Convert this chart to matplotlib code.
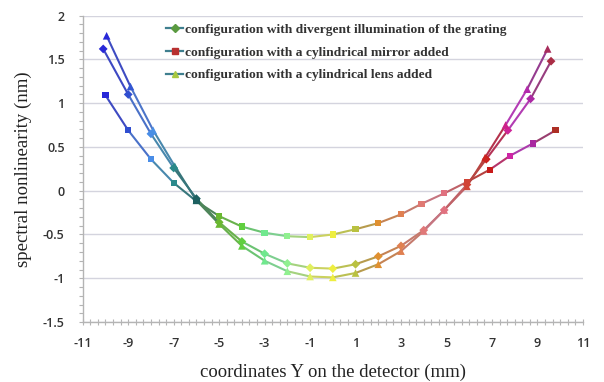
import numpy as np
import matplotlib
matplotlib.use("Agg")
import matplotlib.pyplot as plt
from matplotlib.collections import LineCollection
from matplotlib.colors import LinearSegmentedColormap, Normalize
from matplotlib.lines import Line2D
from matplotlib.ticker import MultipleLocator

# --- data ---
labels = [
    "configuration with divergent illumination of the grating",
    "configuration with a cylindrical mirror added",
    "configuration with a cylindrical lens added",
]

x_div = [-10.1, -9, -8, -7, -6, -5, -4, -3, -2, -1, 0, 1, 2, 3, 4, 4.9, 5.9, 6.75, 7.7, 8.7, 9.6]
y_div = [1.62, 1.10, 0.65, 0.26, -0.09, -0.36, -0.58, -0.72, -0.83, -0.88, -0.89,
         -0.84, -0.75, -0.63, -0.45, -0.22, 0.07, 0.36, 0.69, 1.05, 1.48]

x_mir = [-10, -9, -8, -7, -6, -5, -4, -3, -2, -1, 0, 1, 2, 3, 3.9, 4.9, 5.9, 6.9, 7.8, 8.8, 9.8]
y_mir = [1.09, 0.69, 0.36, 0.09, -0.12, -0.29, -0.41, -0.48, -0.52, -0.53, -0.50,
         -0.44, -0.37, -0.27, -0.15, -0.03, 0.10, 0.24, 0.40, 0.54, 0.69]

x_lens = [-9.95, -8.9, -7.9, -6.95, -6, -5, -4, -3, -2, -1, 0, 1, 2, 3, 4, 4.9, 5.9, 6.7, 7.6, 8.55, 9.45]
y_lens = [1.77, 1.19, 0.69, 0.28, -0.11, -0.38, -0.63, -0.80, -0.92, -0.98, -0.99,
          -0.94, -0.84, -0.69, -0.46, -0.22, 0.05, 0.38, 0.75, 1.16, 1.62]

x_ticks = [-11, -9, -7, -5, -3, -1, 1, 3, 5, 7, 9, 11]
y_ticks = [-1.5, -1, -0.5, 0, 0.5, 1, 1.5, 2]

# colour varies along the detector coordinate
cmap_x = [-10, -9, -8, -7, -6, -5, -4, -3, -2, -1, 0, 1, 2, 3, 4, 5, 6, 7, 8, 9, 10]
cmap_colors = ["#2828d8", "#3050d0", "#4a90e8", "#2a8a8a", "#1d6060", "#6ab830",
               "#60d040", "#70e890", "#90f090", "#e0f060", "#f0f040", "#b8c040",
               "#e09030", "#e08050", "#e07878", "#e07080", "#d04030", "#c81818",
               "#d028c8", "#a02898", "#b03010"]

series = [
    (x_div, y_div, "D", 4.5),
    (x_mir, y_mir, "s", 4.5),
    (x_lens, y_lens, "^", 5.5),
]
legend_marker_colors = ["#5a9a40", "#b83030", "#a8c840"]


def main():
    norm = Normalize(min(cmap_x), max(cmap_x))
    cmap = LinearSegmentedColormap.from_list(
        "det", list(zip(norm(np.array(cmap_x)), cmap_colors)))

    fig = plt.figure(figsize=(6.04, 3.82), dpi=100)
    ax = fig.add_axes([0.137, 0.157, 0.828, 0.802])

    grey = np.array([0.45, 0.47, 0.55, 1.0])
    for xs, ys, mk, ms in series:
        xs = np.asarray(xs, float)
        ys = np.asarray(ys, float)
        pts = np.column_stack([xs, ys]).reshape(-1, 1, 2)
        segs = np.concatenate([pts[:-1], pts[1:]], axis=1)
        mids = 0.5 * (xs[:-1] + xs[1:])
        # lines a bit more muted than the markers
        seg_cols = 0.75 * cmap(norm(mids)) + 0.25 * grey
        lc = LineCollection(segs, colors=seg_cols, linewidths=1.5, zorder=3)
        ax.add_collection(lc)
        ax.scatter(xs, ys, marker=mk, s=ms ** 2, c=cmap(norm(xs)),
                   edgecolors="none", zorder=4)

    tick_font = dict(fontfamily="Open Sans", fontsize=9, fontweight="semibold",
                     color="#333333")
    ax.set_xticks(x_ticks, labels=[f"{v:g}" for v in x_ticks], **tick_font)
    ax.set_yticks(y_ticks, labels=[f"{v:g}" for v in y_ticks], **tick_font)
    ax.xaxis.set_minor_locator(MultipleLocator(1 / 3))
    ax.yaxis.set_minor_locator(MultipleLocator(0.1))
    ax.set_xlim(-11, 11)
    ax.set_ylim(-1.5, 2)

    ax.grid(axis="y", color="#d4d4de", linewidth=1.0)
    ax.set_axisbelow(True)
    for side in ["top", "right"]:
        ax.spines[side].set_visible(False)
    for side in ["left", "bottom"]:
        ax.spines[side].set_color("#b4b4b4")
        ax.spines[side].set_linewidth(1.0)

    ax.tick_params(axis="x", which="both", direction="inout", color="#b4b4b4",
                   length=5, width=0.8)
    ax.tick_params(axis="y", which="both", direction="out", color="#b4b4b4",
                   length=3, width=0.8)
    ax.tick_params(axis="x", which="major", pad=8)
    ax.tick_params(axis="y", which="major", pad=10)

    ax.set_xlabel("coordinates Y on the detector (mm)", family="Liberation Serif",
                  fontsize=13.5, color="#222222", labelpad=10)
    ax.set_ylabel("spectral nonlinearity (nm)", family="Liberation Serif",
                  fontsize=13.5, color="#222222", labelpad=8)

    handles = [Line2D([0], [0], color="#3f7f8f", lw=1.6, marker=mk,
                      markersize=ms * 0.9, markerfacecolor=mc, markeredgecolor=mc)
               for (_, _, mk, ms), mc in zip(series, legend_marker_colors)]
    ax.legend(handles, labels, loc="upper left", bbox_to_anchor=(0.15, 1.0),
              frameon=False, handlelength=1.3, handletextpad=0.1,
              labelspacing=0.75, borderaxespad=0.2,
              prop={"family": "Liberation Serif", "size": 9.7, "weight": "bold"},
              labelcolor="#333333")

    fig.savefig("out.png", dpi=100)


if __name__ == "__main__":
    main()
